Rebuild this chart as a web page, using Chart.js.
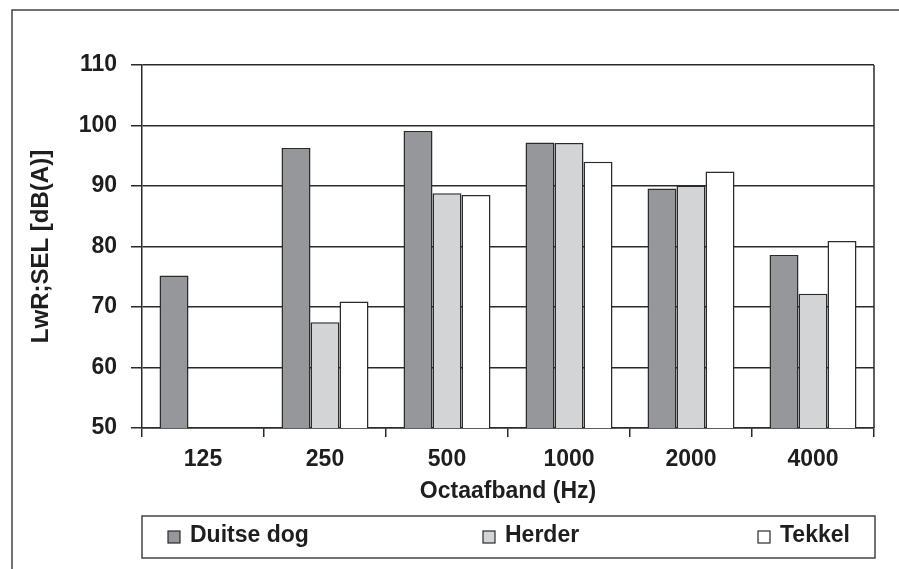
<!DOCTYPE html>
<html>
<head>
<meta charset="utf-8">
<script src="https://cdn.jsdelivr.net/npm/chart.js@4.4.1/dist/chart.umd.min.js"></script>
<style>
  html, body { margin: 0; padding: 0; background: #fff; }
  #wrap { width: 899px; height: 569px; position: relative; }
</style>
</head>
<body>
<div id="wrap"><canvas id="dogChart"></canvas></div>
<script>
const categories = ['125', '250', '500', '1000', '2000', '4000'];
const duitseDog = [75.2, 96.3, 99.1, 97.2, 89.6, 78.6];
const herder = [null, 67.5, 88.8, 97.1, 90.1, 72.2];
const tekkel = [null, 70.9, 88.5, 94.0, 92.4, 80.9];
const yTicks = [50, 60, 70, 80, 90, 100, 110];

const ink = '#2b2b2b';
const fontFamily = "'Liberation Sans', Arial, Helvetica, sans-serif";

Chart.defaults.font.family = fontFamily;
Chart.defaults.color = '#1e1e1e';

// outer frame + right edge of plot + boxed legend
const framePlugin = {
    id: 'frame',
    beforeDraw(chart) {
        const ctx = chart.ctx;
        ctx.save();
        ctx.fillStyle = '#fff';
        ctx.fillRect(0, 0, chart.width, chart.height);
        ctx.strokeStyle = '#444';
        ctx.lineWidth = 1.5;
        ctx.beginPath();
        ctx.moveTo(12, chart.height);
        ctx.lineTo(12, 10);
        ctx.lineTo(chart.width, 10);
        ctx.stroke();
        ctx.restore();
    },
    afterDraw(chart) {
        const ctx = chart.ctx;
        const area = chart.chartArea;
        ctx.save();
        ctx.strokeStyle = ink;
        ctx.lineWidth = 1.5;
        ctx.beginPath();
        ctx.moveTo(area.right, area.top);
        ctx.lineTo(area.right, area.bottom);
        ctx.stroke();

        // legend box
        ctx.strokeStyle = '#444';
        ctx.strokeRect(142, 516, 733, 42);
        const itemX = [168, 483, 758];
        ctx.font = 'bold 23px ' + fontFamily;
        ctx.textBaseline = 'middle';
        chart.data.datasets.forEach(function(ds, i) {
            const x = itemX[i];
            ctx.fillStyle = ds.backgroundColor;
            ctx.fillRect(x, 531, 12, 12);
            ctx.strokeStyle = ink;
            ctx.lineWidth = 1.2;
            ctx.strokeRect(x, 531, 12, 12);
            ctx.fillStyle = '#1e1e1e';
            ctx.fillText(ds.label, x + 22, 536);
        });
        ctx.restore();
    }
};

const ctx = document.getElementById('dogChart').getContext('2d');

new Chart(ctx, {
    type: 'bar',
    data: {
        labels: categories,
        datasets: [
            { label: 'Duitse dog', data: duitseDog, backgroundColor: '#96979b' },
            { label: 'Herder', data: herder, backgroundColor: '#d3d4d6' },
            { label: 'Tekkel', data: tekkel, backgroundColor: '#ffffff' }
        ]
    },
    options: {
        responsive: true,
        maintainAspectRatio: false,
        animation: false,
        devicePixelRatio: 1,
        layout: {
            padding: { left: 0, right: 25, top: 65, bottom: 64 }
        },
        datasets: {
            bar: {
                borderColor: ink,
                borderWidth: 1.5,
                categoryPercentage: 0.713,
                barPercentage: 1.0
            }
        },
        plugins: {
            legend: { display: false },
            tooltip: { enabled: false }
        },
        scales: {
            x: {
                grid: {
                    drawOnChartArea: false,
                    drawTicks: true,
                    tickLength: 9,
                    color: ink,
                    lineWidth: 1.5
                },
                border: { display: true, color: ink, width: 1.5 },
                ticks: {
                    padding: 9,
                    font: { size: 23, weight: 'bold' },
                    color: '#1e1e1e'
                },
                title: {
                    display: true,
                    text: 'Octaafband (Hz)',
                    font: { size: 23, weight: 'bold' },
                    color: '#1e1e1e',
                    padding: { top: 0, bottom: 0 }
                },
                afterFit(scale) { scale.height = 77; }
            },
            y: {
                min: 50,
                max: 110,
                afterBuildTicks(scale) {
                    scale.ticks = yTicks.map(function(v) { return { value: v }; });
                },
                grid: {
                    color: ink,
                    lineWidth: 1.5,
                    drawTicks: true,
                    tickLength: 11
                },
                border: { display: true, color: ink, width: 1.5 },
                ticks: {
                    padding: 14,
                    font: { size: 23, weight: 'bold' },
                    color: '#1e1e1e'
                },
                title: {
                    display: true,
                    text: 'LwR;SEL [dB(A)]',
                    font: { size: 24, weight: 'bold' },
                    color: '#1e1e1e',
                    padding: { top: 27, bottom: 0 }
                },
                afterFit(scale) { scale.width = 142; }
            }
        }
    },
    plugins: [framePlugin]
});
</script>
</body>
</html>
